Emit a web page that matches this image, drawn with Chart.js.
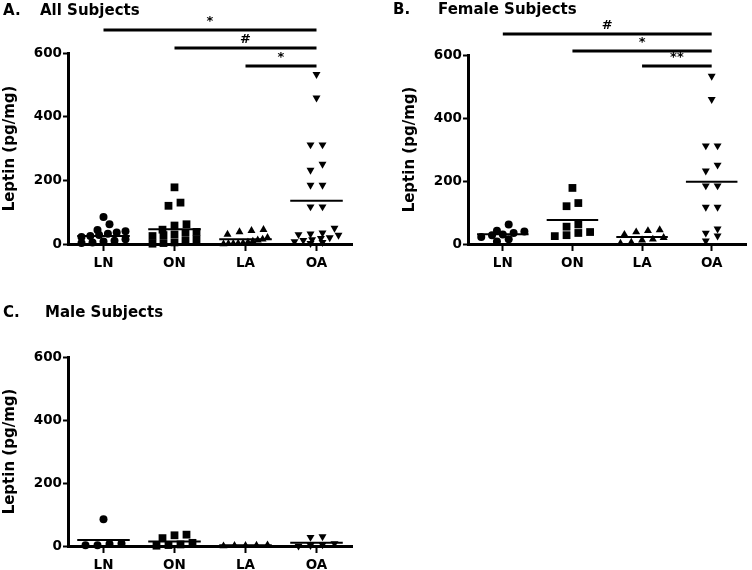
<!DOCTYPE html>
<html><head><meta charset="utf-8">
<script src="https://cdn.jsdelivr.net/npm/chart.js@4.4.1/dist/chart.umd.min.js"></script>
<style>
html,body{margin:0;padding:0;background:#fff;}
#wrap{position:relative;width:752px;height:570px;overflow:hidden;background:#fff;}
.pane{position:absolute;}
canvas{display:block;}
</style></head><body>
<div id="wrap">
<div class="pane" style="left:0;top:0;"><canvas id="cA" width="376" height="290"></canvas></div>
<div class="pane" style="left:376px;top:0;"><canvas id="cB" width="376" height="290"></canvas></div>
<div class="pane" style="left:0;top:290px;"><canvas id="cC" width="376" height="280"></canvas></div>
</div>
<script>
// ---------- data ----------
const groups = ['LN', 'ON', 'LA', 'OA'];
const yTicks = [0, 200, 400, 600];
const yTitle = 'Leptin (pg/mg)';

// A. All Subjects
const allLN = [85, 62, 44, 40, 36, 32, 28, 25, 22, 15, 10, 8, 5, 3];
const allON = [178, 130, 120, 62, 58, 45, 38, 35, 30, 28, 25, 15, 10, 5, 3, 1];
const allLA = [45, 42, 38, 30, 20, 15, 12, 8, 5, 3, 2, 1, 1, 0];
const allOA = [533, 459, 312, 312, 251, 232, 185, 185, 117, 117, 50, 35, 32, 30, 28, 20, 18, 14, 12, 8, 5, 2];
const allMean = [25, 46, 15, 136];

// B. Female Subjects
const femaleLN = [62, 42, 40, 35, 30, 28, 22, 15, 8];
const femaleON = [178, 130, 120, 62, 55, 38, 35, 28, 25];
const femaleLA = [45, 42, 38, 30, 20, 15, 12, 5, 2];
const femaleOA = [533, 459, 312, 312, 251, 232, 185, 185, 117, 117, 48, 35, 26, 10];
const femaleMean = [31, 76, 22, 198];

// C. Male Subjects
const maleLN = [85, 8, 6, 2, 2];
const maleON = [36, 34, 25, 10, 5, 3, 1];
const maleLA = [3, 2, 1, 1, 0];
const maleOA = [30, 28, 8, 4, 2, 0];
const maleMean = [19, 14, 2, 10];

// significance comparisons (group index from -> to, label, bracket level in pg/mg)
const sigAllFrom = [0, 1, 2], sigAllTo = [3, 3, 3], sigAllLabel = ['*', '#', '*'], sigAllLevel = [672, 616, 559];
const sigFemaleFrom = [0, 1, 2], sigFemaleTo = [3, 3, 3], sigFemaleLabel = ['#', '*', '**'], sigFemaleLevel = [667, 613, 565];

// ---------- style ----------
const FONT = "'DejaVu Sans', 'Liberation Sans', sans-serif";
Chart.defaults.font.family = FONT;
Chart.defaults.font.weight = 'bold';
Chart.defaults.color = '#000';
const markerStyle = ['circle', 'rect', 'triangle', 'triangle'];
const markerRot = [0, 0, 0, 180];
const markerR = [4, 5.5, 4.6, 4.6];

// Prism-like column scatter: points with nearly equal values are laid side by side
const Y_PX_PER_UNIT = 191 / 600, X_PX_PER_UNIT = 71, ROW_PX = 6.4, STEP_PX = 12, HALF_PX = 22;
function swarm(vals) {
  const idx = vals.map((v, i) => i).sort((a, b) => vals[b] - vals[a]);
  const rows = []; let row = null;
  idx.forEach(i => {
    if (row && (vals[row[0]] - vals[i]) * Y_PX_PER_UNIT < ROW_PX) row.push(i);
    else { row = [i]; rows.push(row); }
  });
  const off = new Array(vals.length).fill(0);
  rows.forEach(r => {
    const n = r.length; if (n < 2) return;
    const step = Math.min(STEP_PX, 2 * HALF_PX / (n - 1));
    r.slice().reverse().forEach((i, k) => { off[i] = (k - (n - 1) / 2) * step / X_PX_PER_UNIT; });
  });
  return off;
}

function buildDatasets(series, means) {
  const ds = [];
  means.forEach((m, g) => {
    ds.push({ type: 'line', data: [{ x: g - 0.37, y: m }, { x: g + 0.37, y: m }],
      borderColor: '#000', borderWidth: 2, pointRadius: 0, clip: false, order: 2 });
  });
  series.forEach((vals, g) => {
    const offs = swarm(vals);
    ds.push({ type: 'scatter', data: vals.map((v, k) => ({ x: g + offs[k], y: v })),
      pointStyle: markerStyle[g], pointRotation: markerRot[g], pointRadius: markerR[g],
      pointBackgroundColor: '#000', pointBorderColor: '#000', pointBorderWidth: 0,
      clip: false, order: 1 });
  });
  return ds;
}

const annot = {
  id: 'annot',
  afterDraw(chart, args, o) {
    const { ctx } = chart; const xs = chart.scales.x, ys = chart.scales.y;
    ctx.save();
    ctx.fillStyle = '#000'; ctx.strokeStyle = '#000';
    ctx.font = 'bold 15px ' + FONT; ctx.textBaseline = 'alphabetic'; ctx.textAlign = 'left';
    ctx.fillText(o.letter, o.letterX, o.titleY);
    ctx.fillText(o.title, o.titleX, o.titleY);
    (o.sigFrom || []).forEach((f, i) => {
      const x1 = xs.getPixelForValue(f), x2 = xs.getPixelForValue(o.sigTo[i]);
      const y = ys.getPixelForValue(o.sigLevel[i]);
      ctx.lineWidth = 3;
      ctx.beginPath(); ctx.moveTo(x1, y); ctx.lineTo(x2, y); ctx.stroke();
      ctx.font = 'bold 13px ' + FONT; ctx.textAlign = 'center';
      ctx.fillText(o.sigLabel[i], (x1 + x2) / 2, y - 5);
    });
    ctx.restore();
  }
};

function makeChart(id, series, means, cfg) {
  return new Chart(document.getElementById(id), {
    data: { datasets: buildDatasets(series, means) },
    plugins: [annot],
    options: {
      responsive: false, animation: false, events: [],
      layout: { padding: cfg.padding },
      plugins: { legend: { display: false }, tooltip: { enabled: false }, annot: cfg.annot },
      scales: {
        x: {
          type: 'linear', min: -0.5, max: 3.5,
          afterBuildTicks: s => { s.ticks = groups.map((g, i) => ({ value: i })); },
          afterFit: s => { s.height = cfg.xHeight; },
          ticks: { callback: v => groups[v], font: { size: 13.5, weight: 'bold' }, color: '#000', padding: 4, maxRotation: 0, autoSkip: false },
          grid: { display: true, drawOnChartArea: false, drawTicks: true, tickLength: 7, tickWidth: 2, tickColor: '#000', color: '#000' },
          border: { display: true, color: '#000', width: 3 }
        },
        y: {
          type: 'linear', min: 0, max: 600,
          afterBuildTicks: s => { s.ticks = yTicks.map(v => ({ value: v })); },
          afterFit: s => { s.width = cfg.yWidth; },
          ticks: { font: { size: 13.5, weight: 'bold' }, color: '#000', padding: 1 },
          grid: { display: true, drawOnChartArea: false, drawTicks: true, tickLength: 5, tickWidth: 2, tickColor: '#000', color: '#000' },
          border: { display: true, color: '#000', width: 3 },
          title: { display: true, text: yTitle, font: { size: 15, weight: 'bold' }, color: '#000', padding: { top: cfg.yTitlePad, bottom: 2 } }
        }
      }
    }
  });
}

makeChart('cA', [allLN, allON, allLA, allOA], allMean, {
  padding: { left: 0, right: 24, top: 53, bottom: 0 }, xHeight: 46, yWidth: 68, yTitlePad: 1,
  annot: { letter: 'A.', title: 'All Subjects', letterX: 3, titleX: 40, titleY: 15,
    sigFrom: sigAllFrom, sigTo: sigAllTo, sigLabel: sigAllLabel, sigLevel: sigAllLevel }
});
makeChart('cB', [femaleLN, femaleON, femaleLA, femaleOA], femaleMean, {
  padding: { left: 0, right: 1, top: 55, bottom: 0 }, xHeight: 46, yWidth: 92, yTitlePad: 25,
  annot: { letter: 'B.', title: 'Female Subjects', letterX: 17, titleX: 62, titleY: 14,
    sigFrom: sigFemaleFrom, sigTo: sigFemaleTo, sigLabel: sigFemaleLabel, sigLevel: sigFemaleLevel }
});
makeChart('cC', [maleLN, maleON, maleLA, maleOA], maleMean, {
  padding: { left: 0, right: 24, top: 67, bottom: 0 }, xHeight: 24, yWidth: 68, yTitlePad: 1,
  annot: { letter: 'C.', title: 'Male Subjects', letterX: 3, titleX: 45, titleY: 27 }
});
</script>
</body></html>
